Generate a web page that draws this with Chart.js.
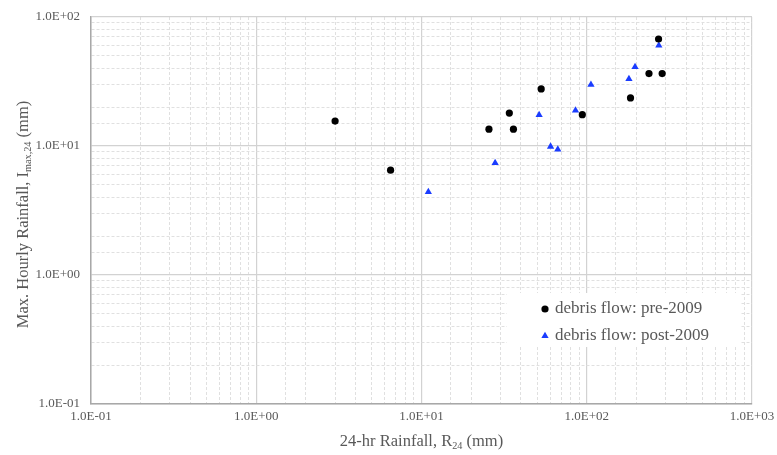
<!DOCTYPE html>
<html>
<head>
<meta charset="utf-8">
<script src="https://cdn.jsdelivr.net/npm/chart.js@4.4.0/dist/chart.umd.min.js"></script>
<style>
  html, body { margin: 0; padding: 0; background: #fff; }
</style>
</head>
<body>
<canvas id="chartLluvia" width="777" height="455"></canvas>
<script>
    // datos (mm)
    const preR24  = [3.0, 6.5, 25.6, 34, 36, 53, 94, 184, 238, 286, 272];
    const preImax = [15.6, 6.5, 13.5, 18.0, 13.5, 27.7, 17.5, 23.6, 36.4, 36.4, 67.5];
    const postR24  = [11.0, 27.9, 51.5, 60.4, 66.8, 85.5, 106, 180, 196, 273];
    const postImax = [4.4, 7.4, 17.4, 9.9, 9.4, 18.9, 29.9, 33.1, 41.0, 60.3];
    const seriesNames = ['debris flow: pre-2009', 'debris flow: post-2009'];
    const xRange = [0.1, 1000];
    const yRange = [0.1, 100];
    const xTitle = [['24-hr Rainfall, R', false], ['24', true], [' (mm)', false]];
    const yTitle = [['Max. Hourly Rainfall, I', false], ['max,24', true], [' (mm)', false]];

    const FONT = '"Liberation Serif", "Times New Roman", serif';
    const TEXT = '#595959';

    const isDecade = v => Math.abs(Math.log10(v) - Math.round(Math.log10(v))) < 1e-9;
    const sciFmt = v => {
        const [m, e] = v.toExponential(1).split('e');
        const n = Math.abs(Number(e));
        return m + 'E' + (Number(e) < 0 ? '-' : '+') + String(n).padStart(2, '0');
    };

    const gridOpts = {
        drawTicks: false,
        color: c => (c.tick && isDecade(c.tick.value)) ? '#d2d2d2' : '#e0e0e0',
        lineWidth: c => (c.tick && isDecade(c.tick.value)) ? 1.2 : 1
    };
    const borderOpts = {
        color: '#a8a8a8',
        width: 1.5,
        dash: c => (c.tick && !isDecade(c.tick.value)) ? [3, 2] : []
    };

    function drawRich(ctx, parts, cx, cy, size) {
        const sub = size * 0.62;
        let total = 0;
        parts.forEach(([t, s]) => {
            ctx.font = (s ? sub : size) + 'px ' + FONT;
            total += ctx.measureText(t).width;
        });
        let x = cx - total / 2;
        ctx.textAlign = 'left';
        ctx.textBaseline = 'alphabetic';
        parts.forEach(([t, s]) => {
            ctx.font = (s ? sub : size) + 'px ' + FONT;
            ctx.fillText(t, x, cy + size * 0.35 + (s ? size * 0.22 : 0));
            x += ctx.measureText(t).width;
        });
    }

    const extras = {
        id: 'extras',
        afterDraw(chart) {
            const ctx = chart.ctx;
            const area = chart.chartArea;
            ctx.save();
            ctx.fillStyle = TEXT;
            drawRich(ctx, xTitle, (area.left + area.right) / 2, 440, 16.5);
            ctx.translate(22, (area.top + area.bottom) / 2 + 4);
            ctx.rotate(-Math.PI / 2);
            drawRich(ctx, yTitle, 0, 0, 16.5);
            ctx.restore();

            // leyenda dentro del area de trazado
            ctx.save();
            ctx.fillStyle = '#fff';
            ctx.fillRect(507, 293, 233, 54);
            chart.data.datasets.forEach((ds, i) => {
                const y = 309 + i * 27;
                ctx.fillStyle = ds.backgroundColor;
                ctx.strokeStyle = ds.borderColor;
                Chart.helpers.drawPoint(ctx, {
                    pointStyle: ds.pointStyle, radius: ds.pointRadius, rotation: 0, borderWidth: 0
                }, 545, y);
                ctx.fillStyle = TEXT;
                ctx.font = '17px ' + FONT;
                ctx.textAlign = 'left';
                ctx.textBaseline = 'middle';
                ctx.fillText(ds.label, 555, y);
            });
            ctx.restore();
        }
    };

    const ctx = document.getElementById('chartLluvia').getContext('2d');
    new Chart(ctx, {
        type: 'scatter',
        data: {
            datasets: [{
                label: seriesNames[0],
                data: preR24.map((x, i) => ({ x, y: preImax[i] })),
                pointStyle: 'circle',
                pointRadius: 3.6,
                borderWidth: 0,
                backgroundColor: '#000',
                borderColor: '#000'
            }, {
                label: seriesNames[1],
                data: postR24.map((x, i) => ({ x, y: postImax[i] })),
                pointStyle: 'triangle',
                pointRadius: 4.2,
                borderWidth: 0,
                backgroundColor: '#1a3cff',
                borderColor: '#1a3cff'
            }]
        },
        options: {
            responsive: false,
            animation: false,
            devicePixelRatio: 1,
            layout: { padding: { top: 17, right: 25, left: 0, bottom: 0 } },
            plugins: { legend: { display: false }, tooltip: { enabled: false } },
            scales: {
                x: {
                    type: 'logarithmic',
                    min: xRange[0], max: xRange[1],
                    grid: gridOpts,
                    border: borderOpts,
                    afterFit: s => { s.height = 51; s.paddingRight = 0; s.paddingLeft = 0; },
                    ticks: {
                        autoSkip: false, maxRotation: 0, padding: 5,
                        color: TEXT, font: { family: FONT, size: 13 },
                        callback: v => isDecade(v) ? sciFmt(v) : ''
                    }
                },
                y: {
                    type: 'logarithmic',
                    min: yRange[0], max: yRange[1],
                    grid: gridOpts,
                    border: borderOpts,
                    afterFit: s => { s.width = 91; s.paddingTop = 0; s.paddingBottom = 0; },
                    ticks: {
                        autoSkip: false, padding: 11,
                        color: TEXT, font: { family: FONT, size: 13 },
                        callback: v => isDecade(v) ? sciFmt(v) : ''
                    }
                }
            }
        },
        plugins: [extras]
    });
</script>
</body>
</html>
